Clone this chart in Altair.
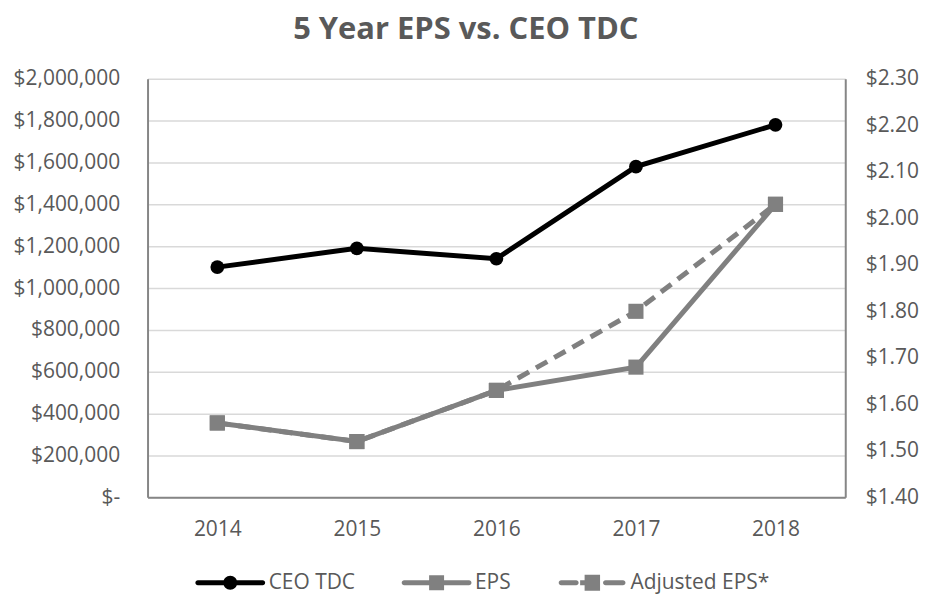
import altair as alt
import pandas as pd

# ---- data ----
years = ["2014", "2015", "2016", "2017", "2018"]
ceo_tdc = [1100000, 1190000, 1140000, 1580000, 1780000]
eps = [1.56, 1.52, 1.63, 1.68, 2.03]
adjusted_eps = [1.56, 1.52, 1.63, 1.80, 2.03]
series_names = ["CEO TDC", "EPS", "Adjusted EPS*"]
series_colors = ["#000000", "#808080", "#808080"]
left_ticks = [0, 200000, 400000, 600000, 800000, 1000000, 1200000,
              1400000, 1600000, 1800000, 2000000]
right_ticks = [1.4, 1.5, 1.6, 1.7, 1.8, 1.9, 2.0, 2.1, 2.2, 2.3]

rows = []
for name, vals in zip(series_names, [ceo_tdc, eps, adjusted_eps]):
    for y, v in zip(years, vals):
        rows.append({"year": y, "series": name, "value": v})
df = pd.DataFrame(rows)

FONT = "Open Sans"
TXT = "#595959"
AXIS_LINE = "#868686"
GRAY = "#808080"

# legend glyphs (line + marker), drawn as filled shapes
path_ceo = ("M-3.25 -0.25 L3.25 -0.25 A0.25 0.25 0 0 1 3.25 0.25 "
            "L-3.25 0.25 A0.25 0.25 0 0 1 -3.25 -0.25 Z "
            "M0.7 0 A0.7 0.7 0 1 1 -0.7 0 A0.7 0.7 0 1 1 0.7 0 Z")
path_eps = ("M-3.25 -0.25 L3.25 -0.25 A0.25 0.25 0 0 1 3.25 0.25 "
            "L-3.25 0.25 A0.25 0.25 0 0 1 -3.25 -0.25 Z "
            "M-0.75 -0.75 L0.75 -0.75 L0.75 0.75 L-0.75 0.75 Z")
path_adj = ("M-3.1 -0.25 L-1.6 -0.25 A0.25 0.25 0 0 1 -1.6 0.25 "
            "L-3.1 0.25 A0.25 0.25 0 0 1 -3.1 -0.25 Z "
            "M-1.2 -0.25 L-0.75 -0.25 L-0.75 0.25 L-1.2 0.25 Z "
            "M-0.75 -0.8 L0.8 -0.8 L0.8 0.8 L-0.75 0.8 Z "
            "M1.35 -0.25 L3.1 -0.25 A0.25 0.25 0 0 1 3.1 0.25 "
            "L1.35 0.25 A0.25 0.25 0 0 1 1.35 -0.25 Z")

x_enc = alt.X(
    "year:O", sort=years,
    scale=alt.Scale(type="point", padding=0.5),
    axis=alt.Axis(title=None, labelAngle=0, ticks=False, labelPadding=21,
                  grid=False, domainColor=AXIS_LINE, domainWidth=2),
)

y_left = alt.Y(
    "value:Q",
    scale=alt.Scale(domain=[0, 2000000], nice=False, zero=True),
    axis=alt.Axis(orient="left", title=None, values=left_ticks, ticks=False,
                  labelExpr="datum.value == 0 ? '$-\u00a0\u00a0\u00a0' : format(datum.value, '$,')",
                  grid=True, gridColor="#d9d9d9", gridWidth=1.5,
                  domainColor=AXIS_LINE, domainWidth=2, labelPadding=28),
)
y_right = alt.Y(
    "value:Q",
    scale=alt.Scale(domain=[1.4, 2.3], nice=False, zero=False),
    axis=alt.Axis(orient="right", title=None, values=right_ticks, ticks=False,
                  format="$.2f", grid=False,
                  domainColor=AXIS_LINE, domainWidth=2, labelPadding=20),
)

base = alt.Chart(df)

ceo = base.transform_filter(alt.datum.series == "CEO TDC")
ceo_line = ceo.mark_line(color="#000000", strokeWidth=5).encode(x=x_enc, y=y_left)
ceo_pts = ceo.mark_point(shape="circle", filled=True, size=190, opacity=1,
                         color="#000000").encode(x=x_enc, y=y_left)
left = alt.layer(ceo_line, ceo_pts)

eps_d = base.transform_filter(alt.datum.series == "EPS")
adj_d = base.transform_filter(alt.datum.series == "Adjusted EPS*")
adj_line = adj_d.mark_line(color=GRAY, strokeWidth=5, strokeDash=[13, 8]).encode(x=x_enc, y=y_right)
adj_pts = adj_d.mark_point(shape="square", filled=True, size=230, opacity=1,
                           color=GRAY).encode(x=x_enc, y=y_right)
eps_line = eps_d.mark_line(color=GRAY, strokeWidth=5).encode(x=x_enc, y=y_right)
eps_pts = eps_d.mark_point(shape="square", filled=True, size=230, opacity=1,
                           color=GRAY).encode(x=x_enc, y=y_right)

legend_props = dict(
    title=None, orient="none", direction="horizontal",
    legendX=48, legendY=495,
    labelFont=FONT, labelFontSize=21, labelColor=TXT,
    symbolSize=400, symbolStrokeWidth=0, symbolOffset=24.5, labelOffset=28,
    columnPadding=46, padding=0,
)
legend_layer = base.transform_filter("datum.value < -1").mark_point(
    filled=True, size=400, opacity=1
).encode(
    color=alt.Color("series:N", scale=alt.Scale(domain=series_names, range=series_colors),
                    legend=alt.Legend(**legend_props)),
    shape=alt.Shape("series:N", scale=alt.Scale(domain=series_names,
                                                 range=[path_ceo, path_eps, path_adj]),
                    legend=alt.Legend(**legend_props)),
)

right = alt.layer(adj_line, adj_pts, eps_line, eps_pts, legend_layer)

chart = alt.layer(left, right).resolve_scale(y="independent").properties(
    width=700, height=420,
    title=alt.TitleParams("5 Year EPS vs. CEO TDC", font=FONT, fontSize=31,
                          fontWeight="bold", color=TXT, anchor="middle",
                          frame="bounds", offset=22),
).configure_view(stroke=None).configure_axis(
    labelFont=FONT, labelFontSize=21, labelColor=TXT
)

chart.save("out.html", embed_options={"renderer": "svg", "actions": False})
